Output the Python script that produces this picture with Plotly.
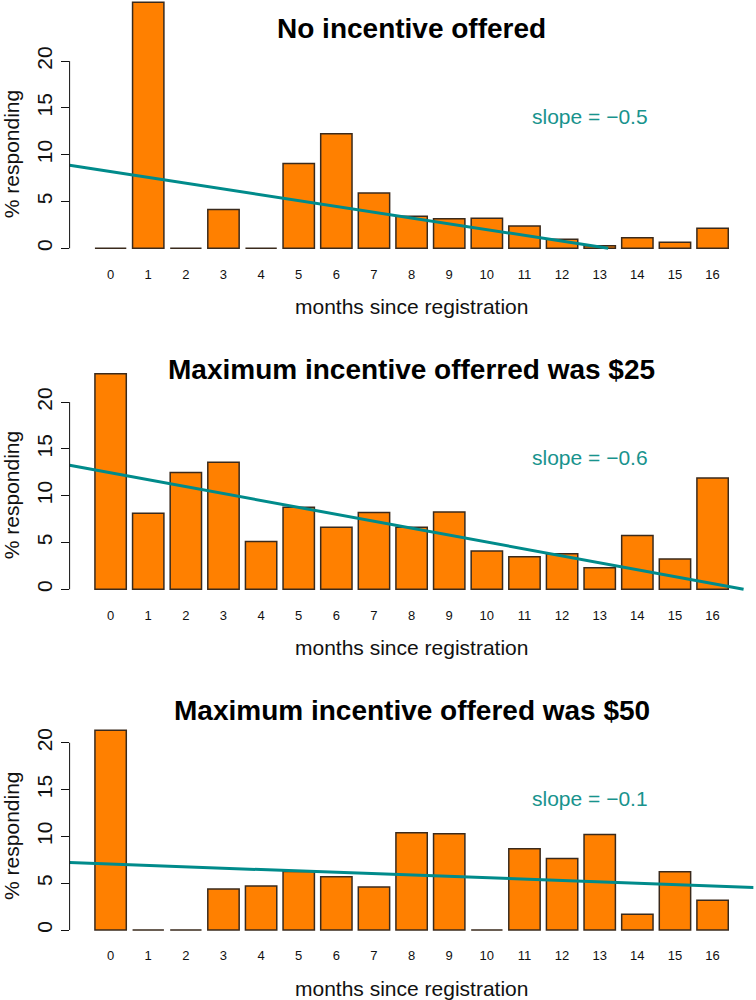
import plotly.graph_objects as go

# ---------------- data ----------------
months = list(range(17))
month_labels = [str(m) for m in months]

pct_no_incentive = [0, 26.3, 0, 4.14, 0, 9.07, 12.25, 5.9, 3.43, 3.17, 3.2, 2.39, 0.96, 0.28, 1.14, 0.64, 2.14]
pct_max_25 = [23.03, 8.13, 12.47, 13.57, 5.12, 8.77, 6.64, 8.2, 6.64, 8.27, 4.08, 3.48, 3.8, 2.3, 5.76, 3.23, 11.9]
pct_max_50 = [21.35, 0, 0, 4.38, 4.7, 6.26, 5.69, 4.59, 10.39, 10.28, 0, 8.68, 7.65, 10.21, 1.67, 6.22, 3.17]

panel_titles = ["No incentive offered",
                "Maximum incentive offerred was $25",
                "Maximum incentive offered was $50"]
fit_intercepts = [8.2, 12.45, 7.04]      # fitted value at month 0
fit_slopes = [-0.62, -0.74, -0.146]      # per month (as drawn)
slope_labels = ["slope = \u22120.5", "slope = \u22120.6", "slope = \u22120.1"]
y_ticks = [0, 5, 10, 15, 20]
x_title = "months since registration"
y_title = "% responding"

series = [pct_no_incentive, pct_max_25, pct_max_50]

# ---------------- layout constants ----------------
W, H = 756, 1000
X_LEFT_PX, X_RIGHT_PX = 69.6, 753.6
X_MIN, X_MAX = -1.09, 17.09
Y_MIN, Y_MAX_AXIS = -0.8, 26.5
Y_REGION_TOP = 20.8          # top of the nominal plotting region (for centering the y title)
ZERO_PX = [248.3, 589.3, 930.0]
SCALE = 9.36  # px per unit

ORANGE = "#FF8000"
EDGE = "#3a2a1c"
TEAL = "#008B8B"
TEAL_TEXT = "#18938d"
FONT = "Liberation Sans, Arial, Helvetica, sans-serif"

fig = go.Figure()
annotations = []
shapes = []

for i, vals in enumerate(series):
    n = i + 1
    xa = "x" if n == 1 else f"x{n}"
    ya = "y" if n == 1 else f"y{n}"
    fig.add_trace(go.Bar(
        x=months, y=vals, xaxis=xa, yaxis=ya,
        marker=dict(color=ORANGE, line=dict(color=EDGE, width=1.5)),
        showlegend=False, hoverinfo="x+y",
    ))
    # fitted line, drawn across the plot region and clipped at zero
    a, b = fit_intercepts[i], fit_slopes[i]
    x_end = X_MAX
    if a + b * X_MAX < 0:
        x_end = -a / b
    xs = [X_MIN, x_end]
    ys = [a + b * xv for xv in xs]
    fig.add_trace(go.Scatter(
        x=xs, y=ys, xaxis=xa, yaxis=ya, mode="lines",
        line=dict(color=TEAL, width=3), showlegend=False, hoverinfo="skip",
    ))

    zero = ZERO_PX[i]
    bottom = zero - Y_MIN * SCALE
    top = max(0.0, zero - Y_MAX_AXIS * SCALE)
    y_top_val = (zero - top) / SCALE
    dom = [1 - bottom / H, 1 - top / H]

    fig.update_layout({
        f"xaxis{'' if n == 1 else n}": dict(
            domain=[X_LEFT_PX / W, X_RIGHT_PX / W], range=[X_MIN, X_MAX],
            anchor=ya, tickmode="array", tickvals=months, ticktext=month_labels,
            showline=False, showgrid=False, zeroline=False, ticks="",
            tickfont=dict(family=FONT, size=13, color="#111"),
            ticklabelstandoff=9, automargin=False,
        ),
        f"yaxis{'' if n == 1 else n}": dict(
            domain=dom, range=[Y_MIN, y_top_val], anchor=xa,
            tickmode="array", tickvals=y_ticks, ticktext=[str(t) for t in y_ticks],
            ticks="outside", ticklen=8, tickwidth=1, tickcolor="#111",
            showline=False, showgrid=False, zeroline=False,
            tickangle=-90, tickfont=dict(family=FONT, size=21, color="#111"),
            ticklabelstandoff=0, automargin=False,
        ),
    })

    # y axis line from first to last tick
    shapes.append(dict(type="line", xref=f"{xa} domain", yref=ya,
                       x0=0, x1=0, y0=min(y_ticks), y1=max(y_ticks),
                       line=dict(color="#111", width=1)))

    region_top_px = zero - Y_REGION_TOP * SCALE
    cx = (X_LEFT_PX + X_RIGHT_PX) / 2 / W
    annotations.append(dict(text=f"<b>{panel_titles[i]}</b>", x=cx, y=1 - (zero - 220) / H,
                            xref="paper", yref="paper", showarrow=False,
                            xanchor="center", yanchor="middle",
                            font=dict(family=FONT, size=28, color="#000")))
    annotations.append(dict(text=slope_labels[i], x=590 / W, y=1 - (zero - 131.5) / H,
                            xref="paper", yref="paper", showarrow=False,
                            xanchor="center", yanchor="middle",
                            font=dict(family=FONT, size=21, color=TEAL_TEXT)))
    annotations.append(dict(text=x_title, x=cx, y=1 - (zero + 58) / H,
                            xref="paper", yref="paper", showarrow=False,
                            xanchor="center", yanchor="middle",
                            font=dict(family=FONT, size=21, color="#111")))
    annotations.append(dict(text=y_title, x=11.5 / W, y=1 - ((region_top_px + bottom) / 2) / H,
                            xref="paper", yref="paper", showarrow=False, textangle=-90,
                            xanchor="center", yanchor="middle",
                            font=dict(family=FONT, size=21, color="#111")))

fig.update_layout(
    width=W, height=H, margin=dict(l=0, r=0, t=0, b=0, autoexpand=False),
    paper_bgcolor="white", plot_bgcolor="white",
    bargap=1 / 6, annotations=annotations, shapes=shapes,
)

fig.write_html("out.html", config={"displayModeBar": False},
               post_script="document.body.style.margin='0';document.body.style.padding='0';")
